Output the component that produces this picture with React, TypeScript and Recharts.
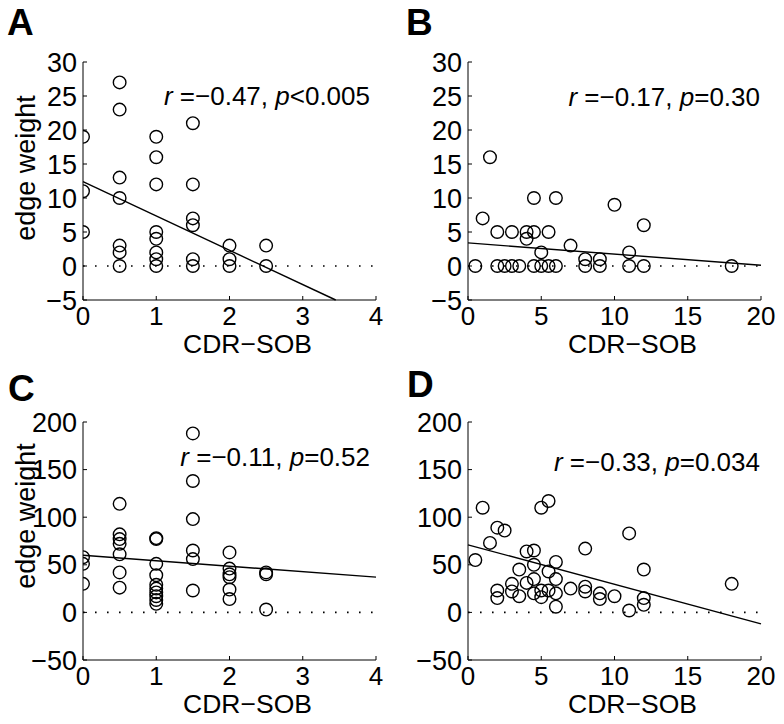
import React from 'react';
import { ScatterChart, Scatter, XAxis, YAxis, ReferenceLine, Customized } from 'recharts';

// ---------- data ----------
const aX = [0, 0, 0, 0.5, 0.5, 0.5, 0.5, 0.5, 0.5, 0.5, 1, 1, 1, 1, 1, 1, 1, 1, 1.5, 1.5, 1.5, 1.5, 1.5, 1.5, 2, 2, 2, 2.5, 2.5];
const aY = [19, 11, 5, 27, 23, 13, 10, 3, 2, 0, 19, 16, 12, 5, 4, 2, 1, 0, 21, 12, 7, 6, 1, 0, 3, 1, 0, 3, 0];

const bX = [1.5, 1, 4.5, 6, 10, 12, 2, 3, 4, 4.5, 5.5, 4, 7, 5, 11, 8, 9, 0.5, 2, 2.5, 3, 3.5, 4.5, 5, 5.5, 6, 8, 9, 11, 12, 18];
const bY = [16, 7, 10, 10, 9, 6, 5, 5, 5, 5, 5, 4, 3, 2, 2, 1, 1, 0, 0, 0, 0, 0, 0, 0, 0, 0, 0, 0, 0, 0, 0];

const cX = [0, 0, 0, 0.5, 0.5, 0.5, 0.5, 0.5, 0.5, 0.5, 1, 1, 1, 1, 1, 1, 1, 1, 1, 1, 1.5, 1.5, 1.5, 1.5, 1.5, 1.5, 2, 2, 2, 2, 2, 2, 2.5, 2.5, 2.5];
const cY = [58, 51, 30, 114, 82, 77, 72, 61, 42, 26, 78, 77, 51, 39, 29, 25, 21, 17, 13, 9, 188, 138, 98, 65, 56, 23, 63, 46, 40, 37, 24, 14, 42, 40, 3];

const dX = [1, 5, 5.5, 2, 2.5, 11, 1.5, 0.5, 4, 4.5, 8, 6, 4.5, 3.5, 12, 5.5, 4.5, 6, 4, 3, 2, 2, 3, 3.5, 4.5, 5, 5, 5.5, 6, 6, 7, 8, 8, 9, 9, 10, 11, 12, 12, 18];
const dY = [110, 110, 117, 89, 86, 83, 73, 55, 64, 65, 67, 53, 50, 45, 45, 43, 35, 35, 31, 30, 23, 15, 22, 17, 20, 23, 16, 23, 20, 6, 25, 27, 22, 20, 14, 17, 2, 15, 8, 30];

const fitAX = [0, 3.45];
const fitAY = [12.4, -5];
const fitBX = [0, 20];
const fitBY = [3.4, 0.1];
const fitCX = [0, 4];
const fitCY = [60, 37];
const fitDX = [0, 20];
const fitDY = [71, -12];

const xTicksSmall = [0, 1, 2, 3, 4];
const xTicksLarge = [0, 5, 10, 15, 20];
const yTicksTop = [-5, 0, 5, 10, 15, 20, 25, 30];
const yTicksBottom = [-50, 0, 50, 100, 150, 200];

const statA = { r: '\u22120.47', p: '<0.005' };
const statB = { r: '\u22120.17', p: '=0.30' };
const statC = { r: '\u22120.11', p: '=0.52' };
const statD = { r: '\u22120.33', p: '=0.034' };

const xLabelText = 'CDR\u2212SOB';
const yLabelText = 'edge weight';

// ---------- helpers ----------
const FONT = '"Liberation Sans", Arial, Helvetica, sans-serif';
const zip = (xs: number[], ys: number[]) => xs.map((x, i) => ({ x, y: ys[i] }));
const fmt = (v: number) => String(v).replace('-', '\u2212');

const Ring = (props: any) => {
  const { cx, cy } = props;
  if (cx == null || cy == null) return null;
  return <circle cx={cx} cy={cy} r={6.3} fill="none" stroke="#000" strokeWidth={1.4} />;
};

const XTick = (props: any) => {
  const { x, y, payload } = props;
  return (
    <text x={x} y={y + 25} textAnchor="middle" fontSize={26} fontFamily={FONT} fill="#000">
      {fmt(payload.value)}
    </text>
  );
};

const YTick = (props: any) => {
  const { x, y, payload } = props;
  return (
    <text x={x} y={y + 9.5} textAnchor="end" fontSize={27} fontFamily={FONT} fill="#000">
      {fmt(payload.value)}
    </text>
  );
};

type PanelProps = {
  left: number;
  top: number;
  width: number;
  marginLeft: number;
  marginRight: number;
  xs: number[];
  ys: number[];
  fx: number[];
  fy: number[];
  xDomain: [number, number];
  xTicks: number[];
  yDomain: [number, number];
  yTicks: number[];
  letter: string;
  letterX: number;
  letterY: number;
  stat: { r: string; p: string };
  statY: number;
  xLabelX: number;
  yLabelY?: number;
};

function Panel(p: PanelProps) {
  const data = zip(p.xs, p.ys);
  const H = 360;
  const Texts = () => (
    <g fontFamily={FONT} fill="#000">
      <text x={p.letterX} y={p.letterY} fontSize={37} fontWeight="bold">{p.letter}</text>
      <text x={370} y={p.statY} fontSize={26} textAnchor="end">
        <tspan fontStyle="italic">r</tspan>
        <tspan>{' =' + p.stat.r + ', '}</tspan>
        <tspan fontStyle="italic">p</tspan>
        <tspan>{p.stat.p}</tspan>
      </text>
      <text x={p.xLabelX} y={353} fontSize={26.5} textAnchor="middle">{xLabelText}</text>
      {p.yLabelY != null && (
        <text x={35} y={p.yLabelY} fontSize={27} textAnchor="middle" transform={`rotate(-90, 35, ${p.yLabelY})`}>
          {yLabelText}
        </text>
      )}
    </g>
  );
  return (
    <div style={{ position: 'absolute', left: p.left, top: p.top, width: p.width, height: H }}>
      <ScatterChart
        width={p.width}
        height={H}
        margin={{ top: 62, left: p.marginLeft, right: p.marginRight, bottom: 10 }}
      >
        <XAxis
          type="number"
          dataKey="x"
          domain={p.xDomain}
          ticks={p.xTicks}
          interval={0}
          allowDataOverflow
          height={50}
          tickSize={-4}
          tickMargin={4}
          axisLine={{ stroke: '#000', strokeWidth: 1 }}
          tickLine={{ stroke: '#000', strokeWidth: 1 }}
          tick={<XTick />}
        />
        <YAxis
          type="number"
          dataKey="y"
          domain={p.yDomain}
          ticks={p.yTicks}
          interval={0}
          allowDataOverflow
          width={60}
          tickSize={-4}
          tickMargin={10}
          axisLine={{ stroke: '#000', strokeWidth: 1 }}
          tickLine={{ stroke: '#000', strokeWidth: 1 }}
          tick={<YTick />}
        />
        <ReferenceLine y={0} stroke="#000" strokeWidth={1.6} strokeDasharray="1.6 10.4" ifOverflow="visible" />
        <ReferenceLine
          segment={[{ x: p.fx[0], y: p.fy[0] }, { x: p.fx[1], y: p.fy[1] }]}
          stroke="#000"
          strokeWidth={1.4}
          ifOverflow="visible"
        />
        <Scatter data={data} shape={Ring} isAnimationActive={false} />
        <Customized component={<Texts />} />
      </ScatterChart>
    </div>
  );
}

export default function App() {
  return (
    <div style={{ position: 'absolute', left: 0, top: 0, width: 784, height: 724, background: '#fff', overflow: 'hidden' }}>
      <Panel
        left={0} top={0} width={392} marginLeft={23} marginRight={16}
        xs={aX} ys={aY} fx={fitAX} fy={fitAY}
        xDomain={[0, 4]} xTicks={xTicksSmall} yDomain={[-5, 30]} yTicks={yTicksTop}
        letter="A" letterX={7} letterY={35} stat={statA} statY={105} xLabelX={247.5} yLabelY={168}
      />
      <Panel
        left={390} top={0} width={394} marginLeft={18} marginRight={23}
        xs={bX} ys={bY} fx={fitBX} fy={fitBY}
        xDomain={[0, 20]} xTicks={xTicksLarge} yDomain={[-5, 30]} yTicks={yTicksTop}
        letter="B" letterX={16} letterY={35} stat={statB} statY={106} xLabelX={242.5}
      />
      <Panel
        left={0} top={360} width={392} marginLeft={23} marginRight={16}
        xs={cX} ys={cY} fx={fitCX} fy={fitCY}
        xDomain={[0, 4]} xTicks={xTicksSmall} yDomain={[-50, 200]} yTicks={yTicksBottom}
        letter="C" letterX={8} letterY={40.5} stat={statC} statY={106} xLabelX={247.5} yLabelY={156}
      />
      <Panel
        left={390} top={360} width={394} marginLeft={18} marginRight={23}
        xs={dX} ys={dY} fx={fitDX} fy={fitDY}
        xDomain={[0, 20]} xTicks={xTicksLarge} yDomain={[-50, 200]} yTicks={yTicksBottom}
        letter="D" letterX={17} letterY={36.7} stat={statD} statY={110.7} xLabelX={242.5}
      />
    </div>
  );
}
